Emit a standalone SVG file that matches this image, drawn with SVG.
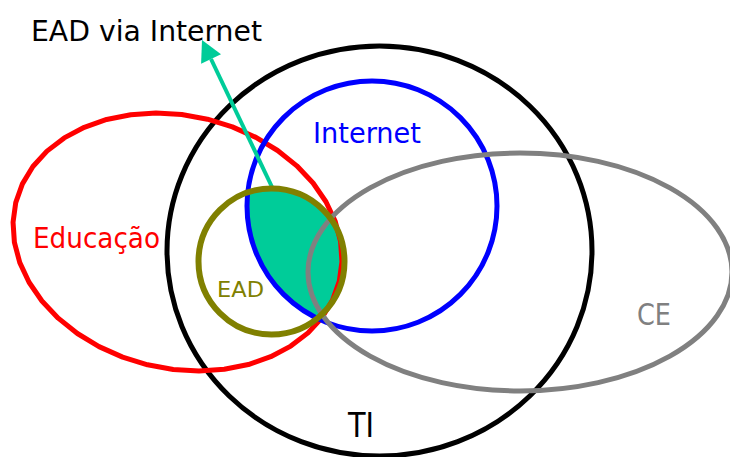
<svg xmlns="http://www.w3.org/2000/svg" width="730" height="457" viewBox="0 0 730 457">
<style>
.set{fill:none;stroke-width:5}
.lbl{font-family:"DejaVu Sans","Liberation Sans",sans-serif}
</style>
<defs>
<clipPath id="inBlue"><circle cx="372" cy="206" r="125"/></clipPath>
</defs>
<rect width="730" height="457" fill="#ffffff"/>
<g id="EADviaInternet-fill">
<circle cx="271.5" cy="261.5" r="73" fill="#00CC99" clip-path="url(#inBlue)"/>
</g>
<g id="TI">
<ellipse class="set" cx="379.5" cy="251" rx="212.5" ry="205" stroke="#000000"/>
<text class="lbl" x="348" y="437" font-size="33" textLength="26" lengthAdjust="spacingAndGlyphs" fill="#000000">TI</text>
</g>
<g id="Educacao">
<polygon class="set" stroke="#FF0000" stroke-linejoin="round" transform="translate(177.5,242) rotate(13.7)" points="166.5,0 164.45,19.77 158.35,39.06 148.35,57.38 134.7,74.3 117.73,89.38 97.87,102.26 75.59,112.62 51.45,120.21 26.05,124.84 0,126.4 -26.05,124.84 -51.45,120.21 -75.59,112.62 -97.87,102.26 -117.73,89.38 -134.7,74.3 -148.35,57.38 -158.35,39.06 -164.45,19.77 -166.5,0 -164.45,-19.77 -158.35,-39.06 -148.35,-57.38 -134.7,-74.3 -117.73,-89.38 -97.87,-102.26 -75.59,-112.62 -51.45,-120.21 -26.05,-124.84 0,-126.4 26.05,-124.84 51.45,-120.21 75.59,-112.62 97.87,-102.26 117.73,-89.38 134.7,-74.3 148.35,-57.38 158.35,-39.06 164.45,-19.77"/>
<text class="lbl" x="33" y="248" font-size="29" textLength="127" lengthAdjust="spacingAndGlyphs" fill="#FF0000">Educação</text>
</g>
<g id="Internet">
<circle class="set" cx="372" cy="206" r="125" stroke="#0000FF"/>
<text class="lbl" x="313" y="143" font-size="29" textLength="108" lengthAdjust="spacingAndGlyphs" fill="#0000FF">Internet</text>
</g>
<g id="CE">
<ellipse class="set" cx="520" cy="272" rx="212" ry="119" stroke="#808080"/>
<text class="lbl" x="637" y="325" font-size="30" textLength="34" lengthAdjust="spacingAndGlyphs" fill="#808080">CE</text>
</g>
<g id="connectors">
<line x1="272" y1="187" x2="211" y2="59" stroke="#00CC99" stroke-width="4"/>
<polygon points="202,40 221,54.3 201.1,63.7" fill="#00CC99"/>
</g>
<g id="EAD">
<circle cx="271.5" cy="261.5" r="73" fill="none" stroke="#808000" stroke-width="6"/>
<text class="lbl" x="217" y="297" font-size="21.5" textLength="47" lengthAdjust="spacingAndGlyphs" fill="#808000">EAD</text>
</g>
<g id="EADviaInternet">
<text class="lbl" x="31" y="41" font-size="29" textLength="231" lengthAdjust="spacingAndGlyphs" fill="#000000">EAD via Internet</text>
</g>
</svg>
